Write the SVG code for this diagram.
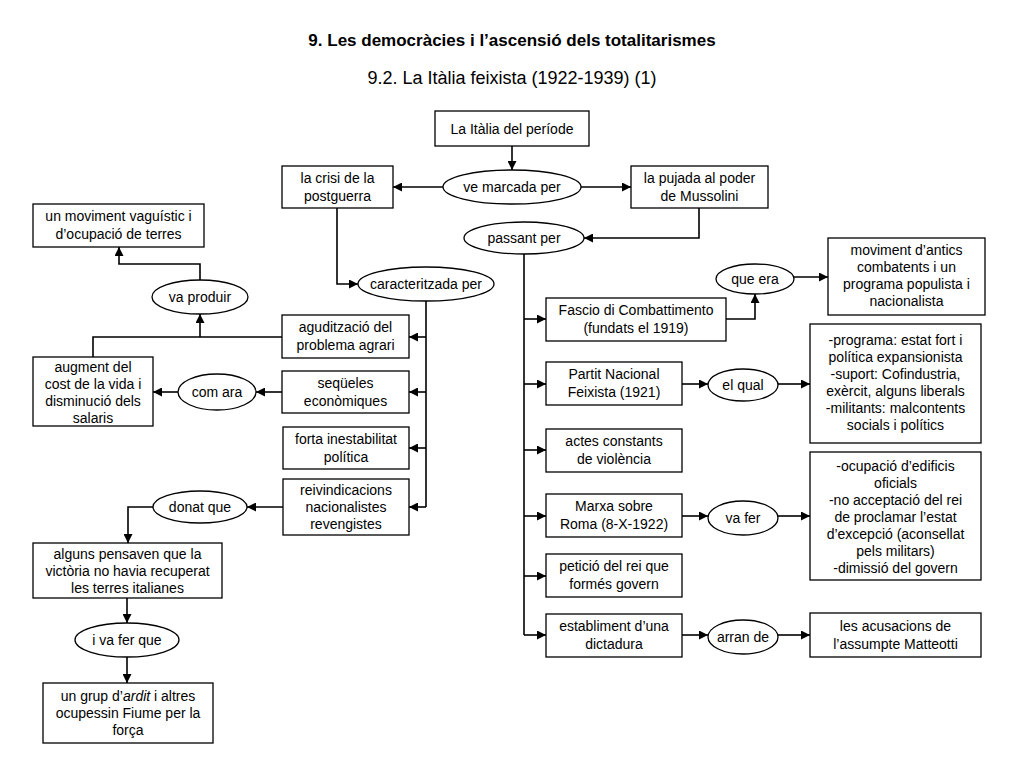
<svg xmlns="http://www.w3.org/2000/svg" width="1024" height="768" viewBox="0 0 1024 768">
<style>
text{font-family:"Liberation Sans",Arial,sans-serif;font-size:14px;fill:#000;text-anchor:middle}
.t1{font-size:17px;font-weight:bold}
.t2{font-size:18px}
rect,ellipse{fill:#fff;stroke:#000;stroke-width:1.3}
.c path{fill:none;stroke:#000;stroke-width:1.6}
.a{marker-end:url(#ah)}
</style>
<defs>
<marker id="ah" viewBox="0 0 10 10" refX="10" refY="5" markerWidth="9" markerHeight="9" markerUnits="userSpaceOnUse" orient="auto"><path d="M0,0 L10,5 L0,10 z" fill="#000"/></marker>
</defs>
<rect x="0" y="0" width="1024" height="768" style="fill:#fff;stroke:none"/>
<text class="t1" x="512" y="46">9. Les democràcies i l’ascensió dels totalitarismes</text>
<text class="t2" x="512" y="84">9.2. La Itàlia feixista (1922-1939) (1)</text>

<g class="c" id="connectors">
<path class="a" d="M512,146 V170"/>
<path class="a" d="M443,187 H393"/>
<path class="a" d="M581,187 H631"/>
<path class="a" d="M699,208 V238 H584"/>
<path class="a" d="M337,208 V284 H358"/>
<path d="M426,301 V507"/>
<path class="a" d="M426,337 H409"/>
<path class="a" d="M426,392 H409"/>
<path class="a" d="M426,448 H409"/>
<path class="a" d="M426,507 H409"/>
<path d="M282,337 H93 V357"/>
<path class="a" d="M200,337 V314"/>
<path class="a" d="M200,280 V264 H119 V247"/>
<path class="a" d="M282,392 H256"/>
<path class="a" d="M178,392 H153"/>
<path class="a" d="M283,507 H247"/>
<path class="a" d="M153,507 H128 V543"/>
<path class="a" d="M127,598 V623"/>
<path class="a" d="M127,657 V683"/>
<path d="M524,254 V635"/>
<path class="a" d="M524,319 H546"/>
<path class="a" d="M524,384 H546"/>
<path class="a" d="M524,450 H546"/>
<path class="a" d="M524,516 H546"/>
<path class="a" d="M524,576 H546"/>
<path class="a" d="M524,635 H546"/>
<path class="a" d="M726,319 H755 V294"/>
<path class="a" d="M794,277 H828"/>
<path class="a" d="M682,384 H708"/>
<path class="a" d="M778,384 H810"/>
<path class="a" d="M682,516 H708"/>
<path class="a" d="M778,516 H810"/>
<path class="a" d="M682,635 H708"/>
<path class="a" d="M778,635 H810"/>
</g>

<g id="italia"><rect x="435" y="111" width="154" height="35"/><text x="512" y="133.5">La Itàlia del període</text></g>
<g id="vemarcada"><ellipse cx="512" cy="187" rx="69" ry="17"/><text x="512" y="192">ve marcada per</text></g>
<g id="crisi"><rect x="282" y="166" width="111" height="42"/><text x="337.5" y="183">la crisi de la</text><text x="337.5" y="200.5">postguerra</text></g>
<g id="pujada"><rect x="631" y="166" width="137" height="42"/><text x="699.5" y="183">la pujada al poder</text><text x="699.5" y="200.5">de Mussolini</text></g>
<g id="passant"><ellipse cx="524" cy="238" rx="60" ry="16"/><text x="524" y="243">passant per</text></g>
<g id="caracteritzada"><ellipse cx="426" cy="284" rx="68" ry="17"/><text x="426" y="289">caracteritzada per</text></g>
<g id="vaguistic"><rect x="33" y="204" width="171" height="43"/><text x="118.5" y="221">un moviment vaguístic i</text><text x="118.5" y="238.5">d’ocupació de terres</text></g>
<g id="vaproduir"><ellipse cx="200" cy="297" rx="48" ry="17"/><text x="200" y="302">va produir</text></g>
<g id="aguditzacio"><rect x="282" y="315" width="127" height="43"/><text x="345.5" y="332">agudització del</text><text x="345.5" y="349.5">problema agrari</text></g>
<g id="sequeles"><rect x="282" y="371" width="127" height="42"/><text x="345.5" y="388">seqüeles</text><text x="345.5" y="405.5">econòmiques</text></g>
<g id="forta"><rect x="283" y="427" width="126" height="42"/><text x="346" y="444">forta inestabilitat</text><text x="346" y="461.5">política</text></g>
<g id="reivindicacions"><rect x="283" y="479" width="126" height="56"/><text x="346" y="495">reivindicacions</text><text x="346" y="512">nacionalistes</text><text x="346" y="529">revengistes</text></g>
<g id="augment"><rect x="33" y="357" width="120" height="69"/><text x="93" y="372">augment del</text><text x="93" y="389">cost de la vida i</text><text x="93" y="406">disminució dels</text><text x="93" y="423">salaris</text></g>
<g id="comara"><ellipse cx="217" cy="392" rx="39" ry="18"/><text x="217" y="397">com ara</text></g>
<g id="donatque"><ellipse cx="200" cy="507" rx="47" ry="16"/><text x="200" y="512">donat que</text></g>
<g id="alguns"><rect x="33" y="543" width="189" height="55"/><text x="127.5" y="559">alguns pensaven que la</text><text x="127.5" y="576">victòria no havia recuperat</text><text x="127.5" y="593">les terres italianes</text></g>
<g id="ivafer"><ellipse cx="127" cy="640" rx="52" ry="17"/><text x="127" y="645">i va fer que</text></g>
<g id="grup"><rect x="43" y="683" width="170" height="60"/><text x="128" y="701">un grup d’<tspan font-style="italic">ardit</tspan> i altres</text><text x="128" y="718">ocupessin Fiume per la</text><text x="128" y="735">força</text></g>

<g id="fascio"><rect x="546" y="298" width="180" height="43"/><text x="636" y="315">Fascio di Combattimento</text><text x="636" y="332.5">(fundats el 1919)</text></g>
<g id="partit"><rect x="546" y="362" width="136" height="43"/><text x="614" y="379">Partit Nacional</text><text x="614" y="396.5">Feixista (1921)</text></g>
<g id="actes"><rect x="546" y="429" width="136" height="43"/><text x="614" y="446">actes constants</text><text x="614" y="463.5">de violència</text></g>
<g id="marxa"><rect x="546" y="494" width="136" height="43"/><text x="614" y="511">Marxa sobre</text><text x="614" y="528.5">Roma (8-X-1922)</text></g>
<g id="peticio"><rect x="546" y="554" width="136" height="43"/><text x="614" y="571">petició del rei que</text><text x="614" y="588.5">formés govern</text></g>
<g id="establiment"><rect x="546" y="614" width="136" height="43"/><text x="614" y="631">establiment d’una</text><text x="614" y="648.5">dictadura</text></g>
<g id="queera"><ellipse cx="755" cy="279" rx="39" ry="15"/><text x="755" y="284">que era</text></g>
<g id="moviment"><rect x="828" y="238" width="157" height="77"/><text x="906.5" y="255">moviment d’antics</text><text x="906.5" y="272">combatents i un</text><text x="906.5" y="289">programa populista i</text><text x="906.5" y="306">nacionalista</text></g>
<g id="elqual"><ellipse cx="743" cy="385" rx="35" ry="16"/><text x="743" y="390">el qual</text></g>
<g id="programa"><rect x="810" y="324" width="171" height="119"/><text x="895.5" y="345">-programa: estat fort i</text><text x="895.5" y="362">política expansionista</text><text x="895.5" y="379">-suport: Cofindustria,</text><text x="895.5" y="396">exèrcit, alguns liberals</text><text x="895.5" y="413">-militants: malcontents</text><text x="895.5" y="430">socials i polítics</text></g>
<g id="vafer"><ellipse cx="743" cy="518" rx="35" ry="17"/><text x="743" y="523">va fer</text></g>
<g id="ocupacio"><rect x="810" y="452" width="171" height="128"/><text x="895.5" y="471">-ocupació d’edificis</text><text x="895.5" y="488">oficials</text><text x="895.5" y="505">-no acceptació del rei</text><text x="895.5" y="522">de proclamar l’estat</text><text x="895.5" y="539">d’excepció (aconsellat</text><text x="895.5" y="556">pels militars)</text><text x="895.5" y="573">-dimissió del govern</text></g>
<g id="arrande"><ellipse cx="743" cy="637" rx="35" ry="17"/><text x="743" y="642">arran de</text></g>
<g id="acusacions"><rect x="810" y="613" width="171" height="44"/><text x="895.5" y="631">les acusacions de</text><text x="895.5" y="648.5">l’assumpte Matteotti</text></g>
</svg>
